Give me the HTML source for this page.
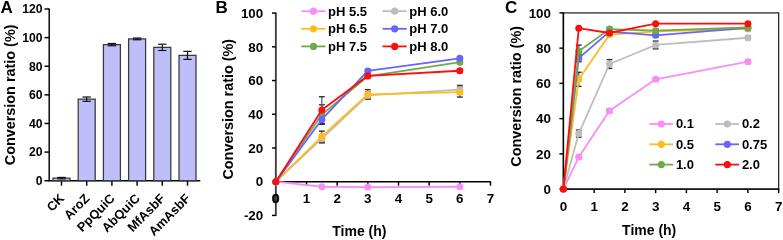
<!DOCTYPE html>
<html><head><meta charset="utf-8"><style>
html,body{margin:0;padding:0;background:#fff;overflow:hidden;width:783px;height:240px;}
svg{display:block;will-change:transform;}
text{font-family:'Liberation Sans',sans-serif;font-weight:bold;fill:#000;}
</style></head><body>
<svg width="783" height="240" viewBox="0 0 783 240">
<rect width="783" height="240" fill="#fff"/>
<text x="0.60" y="12.70" font-size="17" text-anchor="start" >A</text>
<line x1="49.20" y1="8.40" x2="49.20" y2="181.30" stroke="#000" stroke-width="1.45" />
<line x1="44.50" y1="180.70" x2="49.20" y2="180.70" stroke="#000" stroke-width="1.45" />
<text x="42.50" y="185.10" font-size="12.2" text-anchor="end" >0</text>
<line x1="44.50" y1="152.08" x2="49.20" y2="152.08" stroke="#000" stroke-width="1.45" />
<text x="42.50" y="156.48" font-size="12.2" text-anchor="end" >20</text>
<line x1="44.50" y1="123.47" x2="49.20" y2="123.47" stroke="#000" stroke-width="1.45" />
<text x="42.50" y="127.87" font-size="12.2" text-anchor="end" >40</text>
<line x1="44.50" y1="94.85" x2="49.20" y2="94.85" stroke="#000" stroke-width="1.45" />
<text x="42.50" y="99.25" font-size="12.2" text-anchor="end" >60</text>
<line x1="44.50" y1="66.23" x2="49.20" y2="66.23" stroke="#000" stroke-width="1.45" />
<text x="42.50" y="70.63" font-size="12.2" text-anchor="end" >80</text>
<line x1="44.50" y1="37.62" x2="49.20" y2="37.62" stroke="#000" stroke-width="1.45" />
<text x="42.50" y="42.02" font-size="12.2" text-anchor="end" >100</text>
<line x1="44.50" y1="9.00" x2="49.20" y2="9.00" stroke="#000" stroke-width="1.45" />
<text x="42.50" y="13.40" font-size="12.2" text-anchor="end" >120</text>
<line x1="48.60" y1="180.70" x2="200.30" y2="180.70" stroke="#000" stroke-width="1.45" />
<line x1="61.50" y1="180.70" x2="61.50" y2="185.70" stroke="#000" stroke-width="1.45" />
<rect x="53.00" y="178.12" width="17" height="2.58" fill="#bebef8" stroke="#383838" stroke-width="1.25"/>
<line x1="61.50" y1="177.41" x2="61.50" y2="178.84" stroke="#111" stroke-width="1.2" />
<line x1="57.30" y1="177.41" x2="65.70" y2="177.41" stroke="#111" stroke-width="1.2" />
<line x1="57.30" y1="178.84" x2="65.70" y2="178.84" stroke="#111" stroke-width="1.2" />
<text transform="translate(65.10,199.30) rotate(-45)" font-size="12.8" text-anchor="end">CK</text>
<line x1="86.70" y1="180.70" x2="86.70" y2="185.70" stroke="#000" stroke-width="1.45" />
<rect x="78.20" y="99.14" width="17" height="81.56" fill="#bebef8" stroke="#383838" stroke-width="1.25"/>
<line x1="86.70" y1="97.00" x2="86.70" y2="101.29" stroke="#111" stroke-width="1.2" />
<line x1="82.50" y1="97.00" x2="90.90" y2="97.00" stroke="#111" stroke-width="1.2" />
<line x1="82.50" y1="101.29" x2="90.90" y2="101.29" stroke="#111" stroke-width="1.2" />
<text transform="translate(90.30,199.30) rotate(-45)" font-size="12.8" text-anchor="end">AroZ</text>
<line x1="111.90" y1="180.70" x2="111.90" y2="185.70" stroke="#000" stroke-width="1.45" />
<rect x="103.40" y="44.63" width="17" height="136.07" fill="#bebef8" stroke="#383838" stroke-width="1.25"/>
<line x1="111.90" y1="43.48" x2="111.90" y2="45.77" stroke="#111" stroke-width="1.2" />
<line x1="107.70" y1="43.48" x2="116.10" y2="43.48" stroke="#111" stroke-width="1.2" />
<line x1="107.70" y1="45.77" x2="116.10" y2="45.77" stroke="#111" stroke-width="1.2" />
<text transform="translate(115.50,199.30) rotate(-45)" font-size="12.8" text-anchor="end">PpQuiC</text>
<line x1="137.10" y1="180.70" x2="137.10" y2="185.70" stroke="#000" stroke-width="1.45" />
<rect x="128.60" y="38.90" width="17" height="141.80" fill="#bebef8" stroke="#383838" stroke-width="1.25"/>
<line x1="137.10" y1="38.05" x2="137.10" y2="39.76" stroke="#111" stroke-width="1.2" />
<line x1="132.90" y1="38.05" x2="141.30" y2="38.05" stroke="#111" stroke-width="1.2" />
<line x1="132.90" y1="39.76" x2="141.30" y2="39.76" stroke="#111" stroke-width="1.2" />
<text transform="translate(140.70,199.30) rotate(-45)" font-size="12.8" text-anchor="end">AbQuiC</text>
<line x1="162.30" y1="180.70" x2="162.30" y2="185.70" stroke="#000" stroke-width="1.45" />
<rect x="153.80" y="47.35" width="17" height="133.35" fill="#bebef8" stroke="#383838" stroke-width="1.25"/>
<line x1="162.30" y1="44.20" x2="162.30" y2="50.49" stroke="#111" stroke-width="1.2" />
<line x1="158.10" y1="44.20" x2="166.50" y2="44.20" stroke="#111" stroke-width="1.2" />
<line x1="158.10" y1="50.49" x2="166.50" y2="50.49" stroke="#111" stroke-width="1.2" />
<text transform="translate(165.90,199.30) rotate(-45)" font-size="12.8" text-anchor="end">MfAsbF</text>
<line x1="187.50" y1="180.70" x2="187.50" y2="185.70" stroke="#000" stroke-width="1.45" />
<rect x="179.00" y="55.36" width="17" height="125.34" fill="#bebef8" stroke="#383838" stroke-width="1.25"/>
<line x1="187.50" y1="51.35" x2="187.50" y2="59.37" stroke="#111" stroke-width="1.2" />
<line x1="183.30" y1="51.35" x2="191.70" y2="51.35" stroke="#111" stroke-width="1.2" />
<line x1="183.30" y1="59.37" x2="191.70" y2="59.37" stroke="#111" stroke-width="1.2" />
<text transform="translate(191.10,199.30) rotate(-45)" font-size="12.8" text-anchor="end">AmAsbF</text>
<text transform="translate(15.3,94.90) rotate(-90)" font-size="14.4" text-anchor="middle">Conversion ratio (%)</text>
<text x="215.40" y="12.90" font-size="17" text-anchor="start" >B</text>
<line x1="275.85" y1="12.50" x2="275.85" y2="216.02" stroke="#404040" stroke-width="1.9" />
<line x1="271.95" y1="215.42" x2="275.85" y2="215.42" stroke="#000" stroke-width="1.45" />
<text x="263.25" y="220.12" font-size="13.4" text-anchor="end" >-20</text>
<line x1="271.95" y1="181.70" x2="275.85" y2="181.70" stroke="#000" stroke-width="1.45" />
<text x="263.25" y="186.40" font-size="13.4" text-anchor="end" >0</text>
<line x1="271.95" y1="147.98" x2="275.85" y2="147.98" stroke="#000" stroke-width="1.45" />
<text x="263.25" y="152.68" font-size="13.4" text-anchor="end" >20</text>
<line x1="271.95" y1="114.26" x2="275.85" y2="114.26" stroke="#000" stroke-width="1.45" />
<text x="263.25" y="118.96" font-size="13.4" text-anchor="end" >40</text>
<line x1="271.95" y1="80.54" x2="275.85" y2="80.54" stroke="#000" stroke-width="1.45" />
<text x="263.25" y="85.24" font-size="13.4" text-anchor="end" >60</text>
<line x1="271.95" y1="46.82" x2="275.85" y2="46.82" stroke="#000" stroke-width="1.45" />
<text x="263.25" y="51.52" font-size="13.4" text-anchor="end" >80</text>
<line x1="271.95" y1="13.10" x2="275.85" y2="13.10" stroke="#000" stroke-width="1.45" />
<text x="263.25" y="17.80" font-size="13.4" text-anchor="end" >100</text>
<line x1="275.85" y1="181.70" x2="491.07" y2="181.70" stroke="#000" stroke-width="1.45" />
<line x1="306.51" y1="181.70" x2="306.51" y2="185.70" stroke="#000" stroke-width="1.45" />
<text x="306.51" y="203.20" font-size="13.4" text-anchor="middle" >1</text>
<line x1="337.17" y1="181.70" x2="337.17" y2="185.70" stroke="#000" stroke-width="1.45" />
<text x="337.17" y="203.20" font-size="13.4" text-anchor="middle" >2</text>
<line x1="367.83" y1="181.70" x2="367.83" y2="185.70" stroke="#000" stroke-width="1.45" />
<text x="367.83" y="203.20" font-size="13.4" text-anchor="middle" >3</text>
<line x1="398.49" y1="181.70" x2="398.49" y2="185.70" stroke="#000" stroke-width="1.45" />
<text x="398.49" y="203.20" font-size="13.4" text-anchor="middle" >4</text>
<line x1="429.15" y1="181.70" x2="429.15" y2="185.70" stroke="#000" stroke-width="1.45" />
<text x="429.15" y="203.20" font-size="13.4" text-anchor="middle" >5</text>
<line x1="459.81" y1="181.70" x2="459.81" y2="185.70" stroke="#000" stroke-width="1.45" />
<text x="459.81" y="203.20" font-size="13.4" text-anchor="middle" >6</text>
<line x1="490.47" y1="181.70" x2="490.47" y2="185.70" stroke="#000" stroke-width="1.45" />
<text x="490.47" y="203.20" font-size="13.4" text-anchor="middle" >7</text>
<text x="275.85" y="203.20" font-size="13.4" text-anchor="middle" stroke="#000" stroke-width="0.7">0</text>
<text transform="translate(233.2,109.20) rotate(-90)" font-size="14.4" text-anchor="middle">Conversion ratio (%)</text>
<text x="359.40" y="235.80" font-size="14" text-anchor="middle" >Time (h)</text>
<line x1="321.84" y1="134.49" x2="321.84" y2="142.92" stroke="#555" stroke-width="1.2" />
<line x1="318.94" y1="134.49" x2="324.74" y2="134.49" stroke="#333" stroke-width="1.4" />
<line x1="318.94" y1="142.92" x2="324.74" y2="142.92" stroke="#333" stroke-width="1.4" />
<line x1="367.83" y1="92.00" x2="367.83" y2="98.75" stroke="#555" stroke-width="1.2" />
<line x1="364.93" y1="92.00" x2="370.73" y2="92.00" stroke="#333" stroke-width="1.4" />
<line x1="364.93" y1="98.75" x2="370.73" y2="98.75" stroke="#333" stroke-width="1.4" />
<line x1="459.81" y1="85.43" x2="459.81" y2="93.86" stroke="#555" stroke-width="1.2" />
<line x1="456.91" y1="85.43" x2="462.71" y2="85.43" stroke="#333" stroke-width="1.4" />
<line x1="456.91" y1="93.86" x2="462.71" y2="93.86" stroke="#333" stroke-width="1.4" />
<line x1="321.84" y1="131.12" x2="321.84" y2="141.91" stroke="#555" stroke-width="1.2" />
<line x1="318.94" y1="131.12" x2="324.74" y2="131.12" stroke="#333" stroke-width="1.4" />
<line x1="318.94" y1="141.91" x2="324.74" y2="141.91" stroke="#333" stroke-width="1.4" />
<line x1="367.83" y1="89.64" x2="367.83" y2="99.09" stroke="#555" stroke-width="1.2" />
<line x1="364.93" y1="89.64" x2="370.73" y2="89.64" stroke="#333" stroke-width="1.4" />
<line x1="364.93" y1="99.09" x2="370.73" y2="99.09" stroke="#333" stroke-width="1.4" />
<line x1="459.81" y1="87.28" x2="459.81" y2="97.06" stroke="#555" stroke-width="1.2" />
<line x1="456.91" y1="87.28" x2="462.71" y2="87.28" stroke="#333" stroke-width="1.4" />
<line x1="456.91" y1="97.06" x2="462.71" y2="97.06" stroke="#333" stroke-width="1.4" />
<line x1="321.84" y1="185.91" x2="321.84" y2="187.60" stroke="#555" stroke-width="1.2" />
<line x1="318.94" y1="185.91" x2="324.74" y2="185.91" stroke="#333" stroke-width="1.4" />
<line x1="318.94" y1="187.60" x2="324.74" y2="187.60" stroke="#333" stroke-width="1.4" />
<line x1="367.83" y1="186.25" x2="367.83" y2="187.94" stroke="#555" stroke-width="1.2" />
<line x1="364.93" y1="186.25" x2="370.73" y2="186.25" stroke="#333" stroke-width="1.4" />
<line x1="364.93" y1="187.94" x2="370.73" y2="187.94" stroke="#333" stroke-width="1.4" />
<line x1="459.81" y1="185.91" x2="459.81" y2="187.60" stroke="#555" stroke-width="1.2" />
<line x1="456.91" y1="185.91" x2="462.71" y2="185.91" stroke="#333" stroke-width="1.4" />
<line x1="456.91" y1="187.60" x2="462.71" y2="187.60" stroke="#333" stroke-width="1.4" />
<line x1="321.84" y1="104.82" x2="321.84" y2="124.38" stroke="#555" stroke-width="1.2" />
<line x1="318.94" y1="104.82" x2="324.74" y2="104.82" stroke="#333" stroke-width="1.4" />
<line x1="318.94" y1="124.38" x2="324.74" y2="124.38" stroke="#333" stroke-width="1.4" />
<line x1="367.83" y1="74.64" x2="367.83" y2="78.01" stroke="#555" stroke-width="1.2" />
<line x1="364.93" y1="74.64" x2="370.73" y2="74.64" stroke="#333" stroke-width="1.4" />
<line x1="364.93" y1="78.01" x2="370.73" y2="78.01" stroke="#333" stroke-width="1.4" />
<line x1="459.81" y1="60.48" x2="459.81" y2="63.85" stroke="#555" stroke-width="1.2" />
<line x1="456.91" y1="60.48" x2="462.71" y2="60.48" stroke="#333" stroke-width="1.4" />
<line x1="456.91" y1="63.85" x2="462.71" y2="63.85" stroke="#333" stroke-width="1.4" />
<line x1="321.84" y1="114.77" x2="321.84" y2="124.21" stroke="#555" stroke-width="1.2" />
<line x1="318.94" y1="114.77" x2="324.74" y2="114.77" stroke="#333" stroke-width="1.4" />
<line x1="318.94" y1="124.21" x2="324.74" y2="124.21" stroke="#333" stroke-width="1.4" />
<line x1="367.83" y1="69.24" x2="367.83" y2="72.62" stroke="#555" stroke-width="1.2" />
<line x1="364.93" y1="69.24" x2="370.73" y2="69.24" stroke="#333" stroke-width="1.4" />
<line x1="364.93" y1="72.62" x2="370.73" y2="72.62" stroke="#333" stroke-width="1.4" />
<line x1="459.81" y1="56.60" x2="459.81" y2="59.97" stroke="#555" stroke-width="1.2" />
<line x1="456.91" y1="56.60" x2="462.71" y2="56.60" stroke="#333" stroke-width="1.4" />
<line x1="456.91" y1="59.97" x2="462.71" y2="59.97" stroke="#333" stroke-width="1.4" />
<line x1="321.84" y1="96.73" x2="321.84" y2="123.36" stroke="#555" stroke-width="1.2" />
<line x1="318.94" y1="96.73" x2="324.74" y2="96.73" stroke="#333" stroke-width="1.4" />
<line x1="318.94" y1="123.36" x2="324.74" y2="123.36" stroke="#333" stroke-width="1.4" />
<line x1="367.83" y1="74.13" x2="367.83" y2="77.51" stroke="#555" stroke-width="1.2" />
<line x1="364.93" y1="74.13" x2="370.73" y2="74.13" stroke="#333" stroke-width="1.4" />
<line x1="364.93" y1="77.51" x2="370.73" y2="77.51" stroke="#333" stroke-width="1.4" />
<line x1="459.81" y1="69.08" x2="459.81" y2="72.45" stroke="#555" stroke-width="1.2" />
<line x1="456.91" y1="69.08" x2="462.71" y2="69.08" stroke="#333" stroke-width="1.4" />
<line x1="456.91" y1="72.45" x2="462.71" y2="72.45" stroke="#333" stroke-width="1.4" />
<polyline points="275.85,181.70 321.84,138.71 367.83,95.38 459.81,89.64" fill="none" stroke="#bdbdbd" stroke-width="1.8" stroke-linejoin="round"/>
<circle cx="275.85" cy="181.70" r="3.5" fill="#bdbdbd"/>
<circle cx="321.84" cy="138.71" r="3.5" fill="#bdbdbd"/>
<circle cx="367.83" cy="95.38" r="3.5" fill="#bdbdbd"/>
<circle cx="459.81" cy="89.64" r="3.5" fill="#bdbdbd"/>
<polyline points="275.85,181.70 321.84,136.52 367.83,94.37 459.81,92.17" fill="none" stroke="#ffbd1c" stroke-width="1.8" stroke-linejoin="round"/>
<circle cx="275.85" cy="181.70" r="3.5" fill="#ffbd1c"/>
<circle cx="321.84" cy="136.52" r="3.5" fill="#ffbd1c"/>
<circle cx="367.83" cy="94.37" r="3.5" fill="#ffbd1c"/>
<circle cx="459.81" cy="92.17" r="3.5" fill="#ffbd1c"/>
<polyline points="275.85,181.70 321.84,186.76 367.83,187.10 459.81,186.76" fill="none" stroke="#f98cf7" stroke-width="1.8" stroke-linejoin="round"/>
<circle cx="275.85" cy="181.70" r="3.5" fill="#f98cf7"/>
<circle cx="321.84" cy="186.76" r="3.5" fill="#f98cf7"/>
<circle cx="367.83" cy="187.10" r="3.5" fill="#f98cf7"/>
<circle cx="459.81" cy="186.76" r="3.5" fill="#f98cf7"/>
<polyline points="275.85,181.70 321.84,114.60 367.83,76.32 459.81,62.16" fill="none" stroke="#6faa4a" stroke-width="1.8" stroke-linejoin="round"/>
<circle cx="275.85" cy="181.70" r="3.5" fill="#6faa4a"/>
<circle cx="321.84" cy="114.60" r="3.5" fill="#6faa4a"/>
<circle cx="367.83" cy="76.32" r="3.5" fill="#6faa4a"/>
<circle cx="459.81" cy="62.16" r="3.5" fill="#6faa4a"/>
<polyline points="275.85,181.70 321.84,119.49 367.83,70.93 459.81,58.28" fill="none" stroke="#6666ff" stroke-width="1.8" stroke-linejoin="round"/>
<circle cx="275.85" cy="181.70" r="3.5" fill="#6666ff"/>
<circle cx="321.84" cy="119.49" r="3.5" fill="#6666ff"/>
<circle cx="367.83" cy="70.93" r="3.5" fill="#6666ff"/>
<circle cx="459.81" cy="58.28" r="3.5" fill="#6666ff"/>
<polyline points="275.85,181.70 321.84,110.04 367.83,75.82 459.81,70.76" fill="none" stroke="#ff0d0d" stroke-width="1.8" stroke-linejoin="round"/>
<circle cx="275.85" cy="181.70" r="3.5" fill="#ff0d0d"/>
<circle cx="321.84" cy="110.04" r="3.5" fill="#ff0d0d"/>
<circle cx="367.83" cy="75.82" r="3.5" fill="#ff0d0d"/>
<circle cx="459.81" cy="70.76" r="3.5" fill="#ff0d0d"/>
<line x1="301.25" y1="11.20" x2="325.45" y2="11.20" stroke="#f98cf7" stroke-width="1.8" />
<circle cx="313.45" cy="11.20" r="3.6" fill="#f98cf7"/>
<text x="328.05" y="15.60" font-size="13" text-anchor="start" >pH 5.5</text>
<line x1="382.50" y1="11.20" x2="406.70" y2="11.20" stroke="#bdbdbd" stroke-width="1.8" />
<circle cx="394.70" cy="11.20" r="3.6" fill="#bdbdbd"/>
<text x="409.30" y="15.60" font-size="13" text-anchor="start" >pH 6.0</text>
<line x1="301.25" y1="28.80" x2="325.45" y2="28.80" stroke="#ffbd1c" stroke-width="1.8" />
<circle cx="313.45" cy="28.80" r="3.6" fill="#ffbd1c"/>
<text x="328.05" y="33.20" font-size="13" text-anchor="start" >pH 6.5</text>
<line x1="382.50" y1="28.80" x2="406.70" y2="28.80" stroke="#6666ff" stroke-width="1.8" />
<circle cx="394.70" cy="28.80" r="3.6" fill="#6666ff"/>
<text x="409.30" y="33.20" font-size="13" text-anchor="start" >pH 7.0</text>
<line x1="301.25" y1="46.40" x2="325.45" y2="46.40" stroke="#6faa4a" stroke-width="1.8" />
<circle cx="313.45" cy="46.40" r="3.6" fill="#6faa4a"/>
<text x="328.05" y="50.80" font-size="13" text-anchor="start" >pH 7.5</text>
<line x1="382.50" y1="46.40" x2="406.70" y2="46.40" stroke="#ff0d0d" stroke-width="1.8" />
<circle cx="394.70" cy="46.40" r="3.6" fill="#ff0d0d"/>
<text x="409.30" y="50.80" font-size="13" text-anchor="start" >pH 8.0</text>
<text x="505.00" y="12.60" font-size="17" text-anchor="start" >C</text>
<rect x="563.40" y="12.90" width="215.25" height="176.20" fill="none" stroke="#2a2a2a" stroke-width="1.3"/>
<line x1="563.40" y1="12.40" x2="563.40" y2="189.70" stroke="#000" stroke-width="1.45" />
<line x1="562.80" y1="189.10" x2="779.15" y2="189.10" stroke="#000" stroke-width="1.45" />
<line x1="559.40" y1="189.10" x2="563.40" y2="189.10" stroke="#000" stroke-width="1.45" />
<text x="551.00" y="193.80" font-size="13.4" text-anchor="end" >0</text>
<line x1="559.40" y1="153.86" x2="563.40" y2="153.86" stroke="#000" stroke-width="1.45" />
<text x="551.00" y="158.56" font-size="13.4" text-anchor="end" >20</text>
<line x1="559.40" y1="118.62" x2="563.40" y2="118.62" stroke="#000" stroke-width="1.45" />
<text x="551.00" y="123.32" font-size="13.4" text-anchor="end" >40</text>
<line x1="559.40" y1="83.38" x2="563.40" y2="83.38" stroke="#000" stroke-width="1.45" />
<text x="551.00" y="88.08" font-size="13.4" text-anchor="end" >60</text>
<line x1="559.40" y1="48.14" x2="563.40" y2="48.14" stroke="#000" stroke-width="1.45" />
<text x="551.00" y="52.84" font-size="13.4" text-anchor="end" >80</text>
<line x1="559.40" y1="12.90" x2="563.40" y2="12.90" stroke="#000" stroke-width="1.45" />
<text x="551.00" y="17.60" font-size="13.4" text-anchor="end" >100</text>
<line x1="594.15" y1="189.10" x2="594.15" y2="193.10" stroke="#000" stroke-width="1.45" />
<line x1="624.90" y1="189.10" x2="624.90" y2="193.10" stroke="#000" stroke-width="1.45" />
<line x1="655.65" y1="189.10" x2="655.65" y2="193.10" stroke="#000" stroke-width="1.45" />
<line x1="686.40" y1="189.10" x2="686.40" y2="193.10" stroke="#000" stroke-width="1.45" />
<line x1="717.15" y1="189.10" x2="717.15" y2="193.10" stroke="#000" stroke-width="1.45" />
<line x1="747.90" y1="189.10" x2="747.90" y2="193.10" stroke="#000" stroke-width="1.45" />
<line x1="778.65" y1="189.10" x2="778.65" y2="193.10" stroke="#000" stroke-width="1.45" />
<text x="563.40" y="210.60" font-size="13.4" text-anchor="middle" >0</text>
<text x="594.15" y="210.60" font-size="13.4" text-anchor="middle" >1</text>
<text x="624.90" y="210.60" font-size="13.4" text-anchor="middle" >2</text>
<text x="655.65" y="210.60" font-size="13.4" text-anchor="middle" >3</text>
<text x="686.40" y="210.60" font-size="13.4" text-anchor="middle" >4</text>
<text x="717.15" y="210.60" font-size="13.4" text-anchor="middle" >5</text>
<text x="747.90" y="210.60" font-size="13.4" text-anchor="middle" >6</text>
<text x="778.65" y="210.60" font-size="13.4" text-anchor="middle" >7</text>
<text transform="translate(520.6,96.40) rotate(-90)" font-size="14.4" text-anchor="middle">Conversion ratio (%)</text>
<text x="649.20" y="235.00" font-size="14" text-anchor="middle" >Time (h)</text>
<line x1="578.77" y1="155.27" x2="578.77" y2="158.79" stroke="#555" stroke-width="1.2" />
<line x1="575.88" y1="155.27" x2="581.67" y2="155.27" stroke="#333" stroke-width="1.4" />
<line x1="575.88" y1="158.79" x2="581.67" y2="158.79" stroke="#333" stroke-width="1.4" />
<line x1="609.52" y1="108.93" x2="609.52" y2="112.45" stroke="#555" stroke-width="1.2" />
<line x1="606.62" y1="108.93" x2="612.42" y2="108.93" stroke="#333" stroke-width="1.4" />
<line x1="606.62" y1="112.45" x2="612.42" y2="112.45" stroke="#333" stroke-width="1.4" />
<line x1="655.65" y1="77.57" x2="655.65" y2="81.09" stroke="#555" stroke-width="1.2" />
<line x1="652.75" y1="77.57" x2="658.55" y2="77.57" stroke="#333" stroke-width="1.4" />
<line x1="652.75" y1="81.09" x2="658.55" y2="81.09" stroke="#333" stroke-width="1.4" />
<line x1="747.90" y1="59.95" x2="747.90" y2="63.47" stroke="#555" stroke-width="1.2" />
<line x1="745.00" y1="59.95" x2="750.80" y2="59.95" stroke="#333" stroke-width="1.4" />
<line x1="745.00" y1="63.47" x2="750.80" y2="63.47" stroke="#333" stroke-width="1.4" />
<line x1="578.77" y1="130.07" x2="578.77" y2="137.12" stroke="#555" stroke-width="1.2" />
<line x1="575.88" y1="130.07" x2="581.67" y2="130.07" stroke="#333" stroke-width="1.4" />
<line x1="575.88" y1="137.12" x2="581.67" y2="137.12" stroke="#333" stroke-width="1.4" />
<line x1="609.52" y1="59.59" x2="609.52" y2="68.40" stroke="#555" stroke-width="1.2" />
<line x1="606.62" y1="59.59" x2="612.42" y2="59.59" stroke="#333" stroke-width="1.4" />
<line x1="606.62" y1="68.40" x2="612.42" y2="68.40" stroke="#333" stroke-width="1.4" />
<line x1="655.65" y1="41.09" x2="655.65" y2="48.84" stroke="#555" stroke-width="1.2" />
<line x1="652.75" y1="41.09" x2="658.55" y2="41.09" stroke="#333" stroke-width="1.4" />
<line x1="652.75" y1="48.84" x2="658.55" y2="48.84" stroke="#333" stroke-width="1.4" />
<line x1="747.90" y1="35.98" x2="747.90" y2="39.51" stroke="#555" stroke-width="1.2" />
<line x1="745.00" y1="35.98" x2="750.80" y2="35.98" stroke="#333" stroke-width="1.4" />
<line x1="745.00" y1="39.51" x2="750.80" y2="39.51" stroke="#333" stroke-width="1.4" />
<line x1="578.77" y1="72.28" x2="578.77" y2="86.38" stroke="#555" stroke-width="1.2" />
<line x1="575.88" y1="72.28" x2="581.67" y2="72.28" stroke="#333" stroke-width="1.4" />
<line x1="575.88" y1="86.38" x2="581.67" y2="86.38" stroke="#333" stroke-width="1.4" />
<line x1="609.52" y1="32.81" x2="609.52" y2="36.33" stroke="#555" stroke-width="1.2" />
<line x1="606.62" y1="32.81" x2="612.42" y2="32.81" stroke="#333" stroke-width="1.4" />
<line x1="606.62" y1="36.33" x2="612.42" y2="36.33" stroke="#333" stroke-width="1.4" />
<line x1="655.65" y1="29.64" x2="655.65" y2="33.16" stroke="#555" stroke-width="1.2" />
<line x1="652.75" y1="29.64" x2="658.55" y2="29.64" stroke="#333" stroke-width="1.4" />
<line x1="652.75" y1="33.16" x2="658.55" y2="33.16" stroke="#333" stroke-width="1.4" />
<line x1="747.90" y1="27.17" x2="747.90" y2="30.70" stroke="#555" stroke-width="1.2" />
<line x1="745.00" y1="27.17" x2="750.80" y2="27.17" stroke="#333" stroke-width="1.4" />
<line x1="745.00" y1="30.70" x2="750.80" y2="30.70" stroke="#333" stroke-width="1.4" />
<line x1="578.77" y1="54.66" x2="578.77" y2="61.71" stroke="#555" stroke-width="1.2" />
<line x1="575.88" y1="54.66" x2="581.67" y2="54.66" stroke="#333" stroke-width="1.4" />
<line x1="575.88" y1="61.71" x2="581.67" y2="61.71" stroke="#333" stroke-width="1.4" />
<line x1="609.52" y1="29.82" x2="609.52" y2="33.34" stroke="#555" stroke-width="1.2" />
<line x1="606.62" y1="29.82" x2="612.42" y2="29.82" stroke="#333" stroke-width="1.4" />
<line x1="606.62" y1="33.34" x2="612.42" y2="33.34" stroke="#333" stroke-width="1.4" />
<line x1="655.65" y1="33.52" x2="655.65" y2="37.04" stroke="#555" stroke-width="1.2" />
<line x1="652.75" y1="33.52" x2="658.55" y2="33.52" stroke="#333" stroke-width="1.4" />
<line x1="652.75" y1="37.04" x2="658.55" y2="37.04" stroke="#333" stroke-width="1.4" />
<line x1="747.90" y1="26.12" x2="747.90" y2="29.64" stroke="#555" stroke-width="1.2" />
<line x1="745.00" y1="26.12" x2="750.80" y2="26.12" stroke="#333" stroke-width="1.4" />
<line x1="745.00" y1="29.64" x2="750.80" y2="29.64" stroke="#333" stroke-width="1.4" />
<line x1="578.77" y1="45.14" x2="578.77" y2="57.48" stroke="#555" stroke-width="1.2" />
<line x1="575.88" y1="45.14" x2="581.67" y2="45.14" stroke="#333" stroke-width="1.4" />
<line x1="575.88" y1="57.48" x2="581.67" y2="57.48" stroke="#333" stroke-width="1.4" />
<line x1="609.52" y1="27.35" x2="609.52" y2="30.87" stroke="#555" stroke-width="1.2" />
<line x1="606.62" y1="27.35" x2="612.42" y2="27.35" stroke="#333" stroke-width="1.4" />
<line x1="606.62" y1="30.87" x2="612.42" y2="30.87" stroke="#333" stroke-width="1.4" />
<line x1="655.65" y1="28.93" x2="655.65" y2="32.46" stroke="#555" stroke-width="1.2" />
<line x1="652.75" y1="28.93" x2="658.55" y2="28.93" stroke="#333" stroke-width="1.4" />
<line x1="652.75" y1="32.46" x2="658.55" y2="32.46" stroke="#333" stroke-width="1.4" />
<line x1="747.90" y1="25.76" x2="747.90" y2="29.29" stroke="#555" stroke-width="1.2" />
<line x1="745.00" y1="25.76" x2="750.80" y2="25.76" stroke="#333" stroke-width="1.4" />
<line x1="745.00" y1="29.29" x2="750.80" y2="29.29" stroke="#333" stroke-width="1.4" />
<line x1="578.77" y1="27.35" x2="578.77" y2="29.11" stroke="#555" stroke-width="1.2" />
<line x1="575.88" y1="27.35" x2="581.67" y2="27.35" stroke="#333" stroke-width="1.4" />
<line x1="575.88" y1="29.11" x2="581.67" y2="29.11" stroke="#333" stroke-width="1.4" />
<line x1="609.52" y1="32.11" x2="609.52" y2="33.87" stroke="#555" stroke-width="1.2" />
<line x1="606.62" y1="32.11" x2="612.42" y2="32.11" stroke="#333" stroke-width="1.4" />
<line x1="606.62" y1="33.87" x2="612.42" y2="33.87" stroke="#333" stroke-width="1.4" />
<line x1="655.65" y1="22.77" x2="655.65" y2="24.53" stroke="#555" stroke-width="1.2" />
<line x1="652.75" y1="22.77" x2="658.55" y2="22.77" stroke="#333" stroke-width="1.4" />
<line x1="652.75" y1="24.53" x2="658.55" y2="24.53" stroke="#333" stroke-width="1.4" />
<line x1="747.90" y1="22.77" x2="747.90" y2="24.53" stroke="#555" stroke-width="1.2" />
<line x1="745.00" y1="22.77" x2="750.80" y2="22.77" stroke="#333" stroke-width="1.4" />
<line x1="745.00" y1="24.53" x2="750.80" y2="24.53" stroke="#333" stroke-width="1.4" />
<polyline points="563.40,189.10 578.77,157.03 609.52,110.69 655.65,79.33 747.90,61.71" fill="none" stroke="#f98cf7" stroke-width="1.8" stroke-linejoin="round"/>
<circle cx="563.40" cy="189.10" r="3.5" fill="#f98cf7"/>
<circle cx="578.77" cy="157.03" r="3.5" fill="#f98cf7"/>
<circle cx="609.52" cy="110.69" r="3.5" fill="#f98cf7"/>
<circle cx="655.65" cy="79.33" r="3.5" fill="#f98cf7"/>
<circle cx="747.90" cy="61.71" r="3.5" fill="#f98cf7"/>
<polyline points="563.40,189.10 578.77,133.60 609.52,64.00 655.65,44.97 747.90,37.74" fill="none" stroke="#bdbdbd" stroke-width="1.8" stroke-linejoin="round"/>
<circle cx="563.40" cy="189.10" r="3.5" fill="#bdbdbd"/>
<circle cx="578.77" cy="133.60" r="3.5" fill="#bdbdbd"/>
<circle cx="609.52" cy="64.00" r="3.5" fill="#bdbdbd"/>
<circle cx="655.65" cy="44.97" r="3.5" fill="#bdbdbd"/>
<circle cx="747.90" cy="37.74" r="3.5" fill="#bdbdbd"/>
<polyline points="563.40,189.10 578.77,79.33 609.52,34.57 655.65,31.40 747.90,28.93" fill="none" stroke="#ffbd1c" stroke-width="1.8" stroke-linejoin="round"/>
<circle cx="563.40" cy="189.10" r="3.5" fill="#ffbd1c"/>
<circle cx="578.77" cy="79.33" r="3.5" fill="#ffbd1c"/>
<circle cx="609.52" cy="34.57" r="3.5" fill="#ffbd1c"/>
<circle cx="655.65" cy="31.40" r="3.5" fill="#ffbd1c"/>
<circle cx="747.90" cy="28.93" r="3.5" fill="#ffbd1c"/>
<polyline points="563.40,189.10 578.77,58.18 609.52,31.58 655.65,35.28 747.90,27.88" fill="none" stroke="#6666ff" stroke-width="1.8" stroke-linejoin="round"/>
<circle cx="563.40" cy="189.10" r="3.5" fill="#6666ff"/>
<circle cx="578.77" cy="58.18" r="3.5" fill="#6666ff"/>
<circle cx="609.52" cy="31.58" r="3.5" fill="#6666ff"/>
<circle cx="655.65" cy="35.28" r="3.5" fill="#6666ff"/>
<circle cx="747.90" cy="27.88" r="3.5" fill="#6666ff"/>
<polyline points="563.40,189.10 578.77,51.31 609.52,29.11 655.65,30.70 747.90,27.52" fill="none" stroke="#6faa4a" stroke-width="1.8" stroke-linejoin="round"/>
<circle cx="563.40" cy="189.10" r="3.5" fill="#6faa4a"/>
<circle cx="578.77" cy="51.31" r="3.5" fill="#6faa4a"/>
<circle cx="609.52" cy="29.11" r="3.5" fill="#6faa4a"/>
<circle cx="655.65" cy="30.70" r="3.5" fill="#6faa4a"/>
<circle cx="747.90" cy="27.52" r="3.5" fill="#6faa4a"/>
<polyline points="563.40,189.10 578.77,28.23 609.52,32.99 655.65,23.65 747.90,23.65" fill="none" stroke="#ff0d0d" stroke-width="1.8" stroke-linejoin="round"/>
<circle cx="563.40" cy="189.10" r="3.5" fill="#ff0d0d"/>
<circle cx="578.77" cy="28.23" r="3.5" fill="#ff0d0d"/>
<circle cx="609.52" cy="32.99" r="3.5" fill="#ff0d0d"/>
<circle cx="655.65" cy="23.65" r="3.5" fill="#ff0d0d"/>
<circle cx="747.90" cy="23.65" r="3.5" fill="#ff0d0d"/>
<line x1="649.30" y1="124.00" x2="673.00" y2="124.00" stroke="#f98cf7" stroke-width="1.8" />
<circle cx="661.30" cy="124.00" r="3.6" fill="#f98cf7"/>
<text x="675.90" y="128.40" font-size="13" text-anchor="start" >0.1</text>
<line x1="715.30" y1="124.00" x2="739.00" y2="124.00" stroke="#bdbdbd" stroke-width="1.8" />
<circle cx="727.30" cy="124.00" r="3.6" fill="#bdbdbd"/>
<text x="741.90" y="128.40" font-size="13" text-anchor="start" >0.2</text>
<line x1="649.30" y1="144.30" x2="673.00" y2="144.30" stroke="#ffbd1c" stroke-width="1.8" />
<circle cx="661.30" cy="144.30" r="3.6" fill="#ffbd1c"/>
<text x="675.90" y="148.70" font-size="13" text-anchor="start" >0.5</text>
<line x1="715.30" y1="144.30" x2="739.00" y2="144.30" stroke="#6666ff" stroke-width="1.8" />
<circle cx="727.30" cy="144.30" r="3.6" fill="#6666ff"/>
<text x="741.90" y="148.70" font-size="13" text-anchor="start" >0.75</text>
<line x1="649.30" y1="164.60" x2="673.00" y2="164.60" stroke="#6faa4a" stroke-width="1.8" />
<circle cx="661.30" cy="164.60" r="3.6" fill="#6faa4a"/>
<text x="675.90" y="169.00" font-size="13" text-anchor="start" >1.0</text>
<line x1="715.30" y1="164.60" x2="739.00" y2="164.60" stroke="#ff0d0d" stroke-width="1.8" />
<circle cx="727.30" cy="164.60" r="3.6" fill="#ff0d0d"/>
<text x="741.90" y="169.00" font-size="13" text-anchor="start" >2.0</text>
</svg>
</body></html>
